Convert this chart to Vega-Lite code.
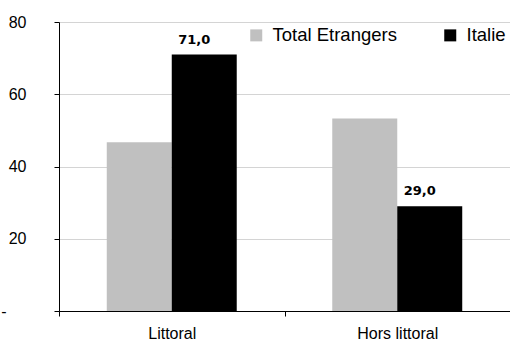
{
  "$schema": "https://vega.github.io/schema/vega-lite/v6.json",
  "width": 451,
  "height": 289,
  "autosize": {"type": "none"},
  "padding": {"left": 59, "top": 22, "right": 0, "bottom": 30},
  "background": "white",
  "config": {
    "view": {"stroke": null},
    "font": "Liberation Sans",
    "locale": {"number": {"decimal": ",", "thousands": " ", "grouping": [3], "currency": ["", " €"]}}
  },
  "data": {
    "values": [
      {"zone": "Littoral", "serie": "Total Etrangers", "valeur": 46.7},
      {"zone": "Littoral", "serie": "Italie", "valeur": 71.0},
      {"zone": "Hors littoral", "serie": "Total Etrangers", "valeur": 53.3},
      {"zone": "Hors littoral", "serie": "Italie", "valeur": 29.0}
    ]
  },
  "encoding": {
    "x": {
      "field": "zone", "type": "nominal", "sort": ["Littoral", "Hors littoral"],
      "scale": {"paddingInner": 0, "paddingOuter": 0},
      "axis": {
        "title": null, "labelAngle": 0, "labelFontSize": 16, "labelColor": "#000000",
        "labelFont": "Liberation Sans", "labelPadding": 9,
        "tickBand": "extent", "tickColor": "#000000", "tickSize": 5,
        "domainColor": "#000000", "grid": false
      }
    },
    "xOffset": {"field": "serie", "type": "nominal", "sort": ["Total Etrangers", "Italie"], "scale": {"paddingInner": 0, "paddingOuter": 0.735}},
    "y": {
      "field": "valeur", "type": "quantitative",
      "scale": {"domain": [0, 80], "nice": false},
      "axis": {
        "title": null, "values": [0, 20, 40, 60, 80],
        "labelExpr": "datum.value == 0 ? '-' : datum.label",
        "labelFontSize": 16, "labelColor": "#000000", "labelFont": "Liberation Sans",
        "labelPadding": {"condition": {"test": "datum.value == 0", "value": 48}, "value": 28},
        "tickColor": "#000000", "tickSize": 5, "domainColor": "#000000",
        "gridColor": "#d4d4d4", "gridWidth": 1
      }
    }
  },
  "layer": [
    {
      "mark": {"type": "bar"},
      "encoding": {
        "color": {
          "field": "serie", "type": "nominal",
          "scale": {"domain": ["Total Etrangers", "Italie"], "range": ["#c0c0c0", "#000000"]},
          "legend": {
            "title": null, "orient": "none", "direction": "horizontal",
            "legendX": 188, "legendY": 4, "padding": 0,
            "symbolType": "square", "symbolSize": 144, "symbolStrokeWidth": 0,
            "labelFontSize": 18.5, "labelColor": "#000000", "labelFont": "Liberation Sans",
            "labelOffset": 7, "columnPadding": 44
          }
        }
      }
    },
    {
      "transform": [{"filter": "datum.serie == 'Italie'"}],
      "mark": {"type": "text", "font": "DejaVu Sans", "fontWeight": "bold", "fontSize": 13, "baseline": "alphabetic", "dy": -11, "dx": -10, "color": "#000000"},
      "encoding": {
        "text": {"field": "valeur", "type": "quantitative", "format": ".1f"}
      }
    }
  ]
}
